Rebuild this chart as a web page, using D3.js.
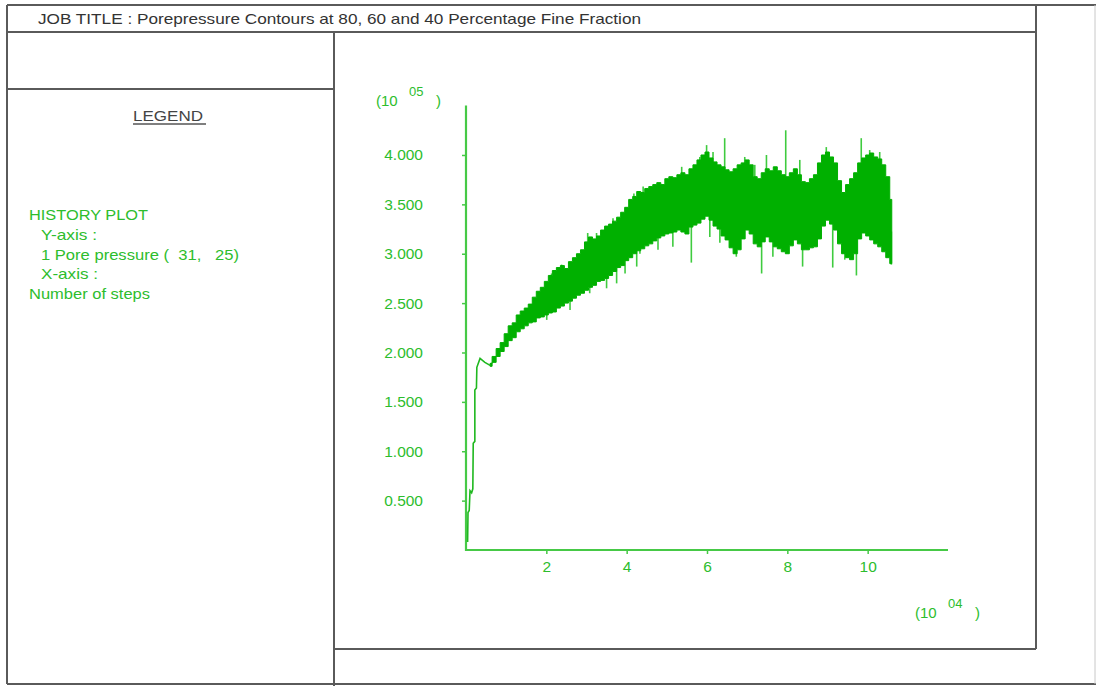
<!DOCTYPE html>
<html>
<head>
<meta charset="utf-8">
<script src="https://cdn.jsdelivr.net/npm/d3@7"></script>
<style>
  html, body { margin: 0; padding: 0; background: #fff; }
  svg { display: block; }
  text { font-family: "Liberation Sans", Arial, sans-serif; }
</style>
</head>
<body>
<svg id="chart" width="1096" height="686"></svg>
<script>
// ---- Data: pore pressure history at node (31, 25) ----
// steps in units of 10^4, pressure in units of 10^5

const titleText = "JOB TITLE : Porepressure Contours at 80, 60 and 40 Percentage Fine Fraction";
const legendLines = ["HISTORY PLOT", "Y-axis :", "1 Pore pressure (  31,   25)", "X-axis :", "Number of steps"];

const stepTicks = [2, 4, 6, 8, 10];
const pressureTicks = [0.5, 1.0, 1.5, 2.0, 2.5, 3.0, 3.5, 4.0];

// initial build-up of pressure
const riseSteps  = [0.04, 0.05, 0.08, 0.10, 0.14, 0.17, 0.18, 0.22, 0.22, 0.26, 0.27, 0.35, 0.47, 0.60];
const riseValues = [0.08, 0.38, 0.40, 0.60, 0.58, 0.62, 1.08, 1.10, 1.62, 1.64, 1.85, 1.94, 1.90, 1.87];

// oscillating phase: minimum and maximum pressure per 1000-step bin
const binSteps = [
  0.6, 0.7, 0.8, 0.9, 1.0, 1.1, 1.2, 1.3, 1.4, 1.5, 1.6, 1.7, 1.8, 1.9,
  2.0, 2.1, 2.2, 2.3, 2.4, 2.5, 2.6, 2.7, 2.8, 2.9,
  3.0, 3.1, 3.2, 3.3, 3.4, 3.5, 3.6, 3.7, 3.8, 3.9,
  4.0, 4.1, 4.2, 4.3, 4.4, 4.5, 4.6, 4.7, 4.8, 4.9,
  5.0, 5.1, 5.2, 5.3, 5.4, 5.5, 5.6, 5.7, 5.8, 5.9,
  6.0, 6.1, 6.2, 6.3, 6.4, 6.5, 6.6, 6.7, 6.8, 6.9,
  7.0, 7.1, 7.2, 7.3, 7.4, 7.5, 7.6, 7.7, 7.8, 7.9,
  8.0, 8.1, 8.2, 8.3, 8.4, 8.5, 8.6, 8.7, 8.8, 8.9,
  9.0, 9.1, 9.2, 9.3, 9.4, 9.5, 9.6, 9.7, 9.8, 9.9,
  10.0, 10.1, 10.2, 10.3, 10.4, 10.5, 10.6
];
const binMin = [
  1.86, 1.90, 1.96, 2.01, 2.06, 2.12, 2.15, 2.21, 2.24, 2.27, 2.30, 2.31, 2.35, 2.36,
  2.38, 2.40, 2.41, 2.45, 2.47, 2.50, 2.52, 2.55, 2.58, 2.60,
  2.63, 2.66, 2.68, 2.72, 2.73, 2.75, 2.78, 2.82, 2.86, 2.88,
  2.93, 2.96, 3.00, 3.03, 3.05, 3.08, 3.10, 3.13, 3.16, 3.18,
  3.20, 3.21, 3.22, 3.24, 3.22, 3.20, 3.27, 3.29, 3.31, 3.35,
  3.38, 3.34, 3.28, 3.25, 3.18, 3.14, 3.06, 3.00, 3.04, 3.15,
  3.24, 3.20, 3.10, 3.07, 3.12, 3.17, 3.12, 3.07, 3.05, 3.02,
  3.00, 3.08, 3.14, 3.10, 3.04, 3.04, 3.06, 3.07, 3.15, 3.28,
  3.34, 3.30, 3.24, 3.10, 3.00, 2.96, 2.94, 3.00, 3.15, 3.21,
  3.18, 3.14, 3.10, 3.07, 3.02, 2.96, 2.90
];
const binMax = [
  1.89, 1.96, 2.04, 2.10, 2.19, 2.27, 2.30, 2.38, 2.42, 2.45, 2.49, 2.56, 2.62, 2.66,
  2.72, 2.78, 2.83, 2.86, 2.88, 2.85, 2.92, 2.96, 3.00, 3.04,
  3.12, 3.17, 3.15, 3.18, 3.24, 3.28, 3.30, 3.33, 3.37, 3.42,
  3.47, 3.55, 3.58, 3.63, 3.62, 3.66, 3.68, 3.70, 3.72, 3.70,
  3.76, 3.78, 3.77, 3.80, 3.82, 3.80, 3.86, 3.90, 3.95, 4.00,
  4.03, 3.97, 3.93, 3.90, 3.88, 3.85, 3.83, 3.86, 3.90, 3.92,
  3.95, 3.90, 3.78, 3.76, 3.82, 3.86, 3.84, 3.88, 3.84, 3.80,
  3.78, 3.82, 3.86, 3.80, 3.73, 3.72, 3.76, 3.80, 3.92, 4.00,
  4.03, 3.98, 3.92, 3.74, 3.62, 3.70, 3.76, 3.82, 3.92, 3.97,
  4.00, 4.02, 3.98, 3.96, 3.90, 3.78, 3.55
];

// isolated peaks and troughs standing out of the band
const spikeSteps = [
  1.88, 2.01, 2.13, 2.38, 2.59, 2.84, 3.03, 3.08, 3.25, 3.50, 3.66, 3.75, 3.96, 4.00,
  4.18, 4.25, 4.33, 4.41, 4.74, 4.78, 5.15, 5.37, 5.61, 5.82, 5.99, 6.07, 6.15, 6.32,
  6.44, 6.73, 6.94, 7.19, 7.36, 7.48, 7.64, 7.96, 8.31, 8.38, 8.97, 9.13, 9.43, 9.72,
  9.84, 10.05, 10.30, 10.59
];
const spikeValues = [
  2.65, 2.33, 2.80, 2.89, 2.43, 2.99, 3.21, 2.60, 3.21, 2.65, 3.36, 2.70, 2.80, 3.44,
  3.61, 2.87, 3.00, 3.68, 3.68, 3.04, 3.07, 3.88, 2.91, 3.98, 4.10, 3.17, 4.03, 3.11,
  4.17, 2.97, 3.98, 3.90, 2.80, 4.00, 2.97, 4.25, 3.95, 2.87, 4.08, 2.86, 2.94, 2.78,
  4.17, 4.05, 4.03, 2.89
];

// ---- Drawing ----
const svg = d3.select("#chart");
const frameColor = "#5a5a5a";
const green = "#00b000";
const axisGreen = "#46c946";
const textGreen = "#2dbd2d";

// page frame
const frame = svg.append("g")
  .attr("fill", "none").attr("stroke", frameColor).attr("stroke-width", 2);
const seg = (x1, y1, x2, y2) => frame.append("line")
  .attr("x1", x1).attr("y1", y1).attr("x2", x2).attr("y2", y2);
seg(7, 5, 1096, 5);
seg(7, 684, 1096, 684);
seg(7, 5, 7, 684);
seg(7, 32, 1036, 32);
seg(1036, 5, 1036, 649);
seg(334, 32, 334, 686);
seg(7, 89, 334, 89);
seg(334, 649, 1036, 649);
svg.append("line").attr("x1", 1095).attr("y1", 5).attr("x2", 1095).attr("y2", 684)
  .attr("stroke", "#c8c8c8").attr("stroke-width", 1);

// title
svg.append("text")
  .attr("x", 38).attr("y", 24)
  .attr("font-size", 14.5).attr("fill", "#333")
  .attr("textLength", 603).attr("lengthAdjust", "spacingAndGlyphs")
  .text(titleText);

// legend panel
svg.append("text")
  .attr("x", 133).attr("y", 121)
  .attr("font-size", 15).attr("fill", "#444")
  .attr("textLength", 70).attr("lengthAdjust", "spacingAndGlyphs")
  .text("LEGEND");
svg.append("line").attr("x1", 133).attr("x2", 206).attr("y1", 124).attr("y2", 124)
  .attr("stroke", "#555").attr("stroke-width", 1.6);

const legendX = [29, 41, 41, 41, 29];
const legendW = [119, 56, 198, 57, 121];
svg.append("g").selectAll("text").data(legendLines).join("text")
  .attr("x", (d, i) => legendX[i])
  .attr("y", (d, i) => 220 + i * 19.8)
  .attr("font-size", 14.5).attr("fill", textGreen)
  .attr("textLength", (d, i) => legendW[i]).attr("lengthAdjust", "spacingAndGlyphs")
  .attr("xml:space", "preserve")
  .text(d => d);

// scales
const x = d3.scaleLinear().domain([0, 12]).range([466, 948]);
const y = d3.scaleLinear().domain([0, 4.5]).range([550, 105.6]);

// axes
const yAxis = d3.axisLeft(y).tickValues(pressureTicks).tickSize(4).tickPadding(39)
  .tickFormat(d3.format(".3f"));
const xAxis = d3.axisBottom(x).tickValues(stepTicks).tickSize(4).tickPadding(7)
  .tickFormat(d3.format("d"));

const gy = svg.append("g").attr("transform", `translate(${x(0)},0)`).call(yAxis);
const gx = svg.append("g").attr("transform", `translate(0,${y(0)})`).call(xAxis);
[gy, gx].forEach(g => {
  g.select(".domain").remove();
  g.selectAll(".tick line").attr("stroke", axisGreen).attr("stroke-width", 1.5);
  g.selectAll(".tick text").attr("fill", textGreen).attr("font-size", 15.5)
    .attr("font-family", "Liberation Sans, Arial, sans-serif");
});
svg.append("path")
  .attr("d", `M${x(0)},${y(4.5)}V${y(0)}H${x(12)}`)
  .attr("fill", "none").attr("stroke", axisGreen).attr("stroke-width", 2.2);

// scale factors
function exponentLabel(g, xx, yy, exp) {
  g.append("text").attr("x", xx).attr("y", yy).attr("font-size", 15).attr("fill", textGreen).text("(10");
  g.append("text").attr("x", xx + 33).attr("y", yy - 10).attr("font-size", 13).attr("fill", textGreen).text(exp);
  g.append("text").attr("x", xx + 60).attr("y", yy).attr("font-size", 15).attr("fill", textGreen).text(")");
}
exponentLabel(svg, 376, 106, "05");
exponentLabel(svg, 915, 618, "04");

// series
const plot = svg.append("g");

// spikes (drawn first, band covers their roots)
const bandMid = s => {
  const i = d3.bisectCenter(binSteps, s);
  return (binMin[i] + binMax[i]) / 2;
};
plot.append("g").selectAll("line").data(spikeSteps).join("line")
  .attr("x1", d => x(d)).attr("x2", d => x(d))
  .attr("y1", (d, i) => y(spikeValues[i]))
  .attr("y2", d => y(bandMid(d)))
  .attr("stroke", "#3fcb3f").attr("stroke-width", 1.6);

const bins = binSteps.map((s, i) => ({ step: s, lo: binMin[i], hi: binMax[i] }));
plot.append("path")
  .datum(bins)
  .attr("d", d3.area().x(d => x(d.step)).y0(d => y(d.lo)).y1(d => y(d.hi)).curve(d3.curveStep))
  .attr("fill", green).attr("stroke", green).attr("stroke-width", 1);

const rise = riseSteps.map((s, i) => ({ step: s, value: riseValues[i] }));
plot.append("path")
  .datum(rise)
  .attr("d", d3.line().x(d => x(d.step)).y(d => y(d.value)))
  .attr("fill", "none").attr("stroke", "#1fb81f").attr("stroke-width", 1.6);
</script>
</body>
</html>
